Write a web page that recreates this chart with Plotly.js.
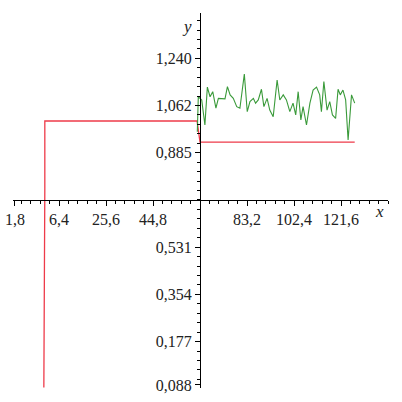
<!DOCTYPE html>
<html>
<head>
<meta charset="utf-8">
<script src="https://cdn.plot.ly/plotly-3.0.1.min.js"></script>
<style>html,body{margin:0;padding:0;background:#fff;}#chart{width:402px;height:402px;}</style>
</head>
<body>
<div id="chart"></div>
<script>
// Reference (step) signal
const refX = [0.2, 0.2, 0.45, 0.6, 0.6, 62.8, 64.0, 127.2];
const refY = [0.005, 0.45, 0.47, 0.75, 1.004, 1.004, 0.925, 0.925];

// Measured (noisy) signal
const sigX = [62.9, 63.3, 64.7, 66.0, 67.0, 68.1, 69.2, 70.5, 71.5, 72.9, 74.2, 75.2, 76.3, 77.6, 79.0, 80.3,
  82.1, 83.3, 84.4, 85.8, 86.7, 87.8, 89.1, 90.1, 91.4, 92.5, 93.9, 95.5, 96.6, 98.0, 99.3, 100.7,
  102.0, 103.1, 104.1, 105.2, 106.1, 107.5, 108.9, 110.2, 111.6, 112.9, 113.6, 114.6, 115.9, 117.0,
  118.1, 119.4, 120.4, 121.3, 122.4, 123.5, 124.5, 125.9, 127.2];
const sigY = [0.964, 1.095, 1.083, 0.989, 1.131, 1.095, 1.114, 1.052, 1.089, 1.089, 1.087, 1.133, 1.102, 1.089, 1.058, 1.052,
  1.180, 1.039, 1.077, 1.089, 1.071, 1.083, 1.123, 1.058, 1.089, 1.045, 1.020, 1.158, 1.083, 1.102, 1.083, 1.039,
  1.071, 1.027, 1.114, 1.008, 1.058, 0.989, 1.071, 1.120, 1.131, 1.102, 1.039, 1.152, 1.045, 1.077,
  1.027, 1.014, 1.123, 1.102, 1.120, 1.083, 0.933, 1.102, 1.071];

// Tick labels
const xTickVals = [-11.6, 6.4, 25.6, 44.8, 83.2, 102.4, 121.6];
const xTickText = ['1,8', '6,4', '25,6', '44,8', '83,2', '102,4', '121,6'];
const yTickVals = [0.0145, 0.177, 0.354, 0.531, 0.885, 1.062, 1.240];
const yTickText = ['0,088', '0,177', '0,354', '0,531', '0,885', '1,062', '1,240'];

const traces = [
  {x: refX, y: refY, mode: 'lines', line: {color: '#ee3b4a', width: 1.3}, hoverinfo: 'skip'},
  {x: sigX, y: sigY, mode: 'lines', line: {color: '#3a9a3a', width: 1.1}, hoverinfo: 'skip'}
];

const font = {family: 'Liberation Serif, DejaVu Serif, serif', size: 16, color: '#222'};

const layout = {
  width: 402, height: 402,
  margin: {l: 13, r: 14, t: 13, b: 14},
  paper_bgcolor: '#fff', plot_bgcolor: '#fff',
  showlegend: false,
  font: font,
  xaxis: {
    range: [-12.4, 140.8], anchor: 'free', position: 0.5014,
    showgrid: false, zeroline: false, showline: true, linecolor: '#000', linewidth: 1,
    tickmode: 'array', tickvals: xTickVals, ticktext: xTickText,
    ticks: 'outside', ticklen: 5, tickcolor: '#000', tickfont: font,
    minor: {tick0: 64, dtick: 3.84, ticks: 'outside', ticklen: 3, tickcolor: '#000', showgrid: false}
  },
  yaxis: {
    range: [0.003, 1.409], anchor: 'free', position: 0.4987,
    showgrid: false, zeroline: false, showline: true, linecolor: '#000', linewidth: 1,
    tickmode: 'array', tickvals: yTickVals, ticktext: yTickText,
    ticks: 'outside', ticklen: 5, tickcolor: '#000', tickfont: font,
    minor: {tick0: 0.708, dtick: 0.0354, ticks: 'outside', ticklen: 3, tickcolor: '#000', showgrid: false}
  },
  annotations: [
    {xref: 'paper', yref: 'paper', x: 0.465, y: 0.995, text: 'y', showarrow: false,
     font: {family: font.family, size: 17, color: '#222', style: 'italic'}},
    {xref: 'paper', yref: 'paper', x: 0.995, y: 0.47, text: 'x', showarrow: false,
     font: {family: font.family, size: 17, color: '#222', style: 'italic'}}
  ]
};

Plotly.newPlot('chart', traces, layout, {displayModeBar: false, staticPlot: true});
</script>
</body>
</html>
